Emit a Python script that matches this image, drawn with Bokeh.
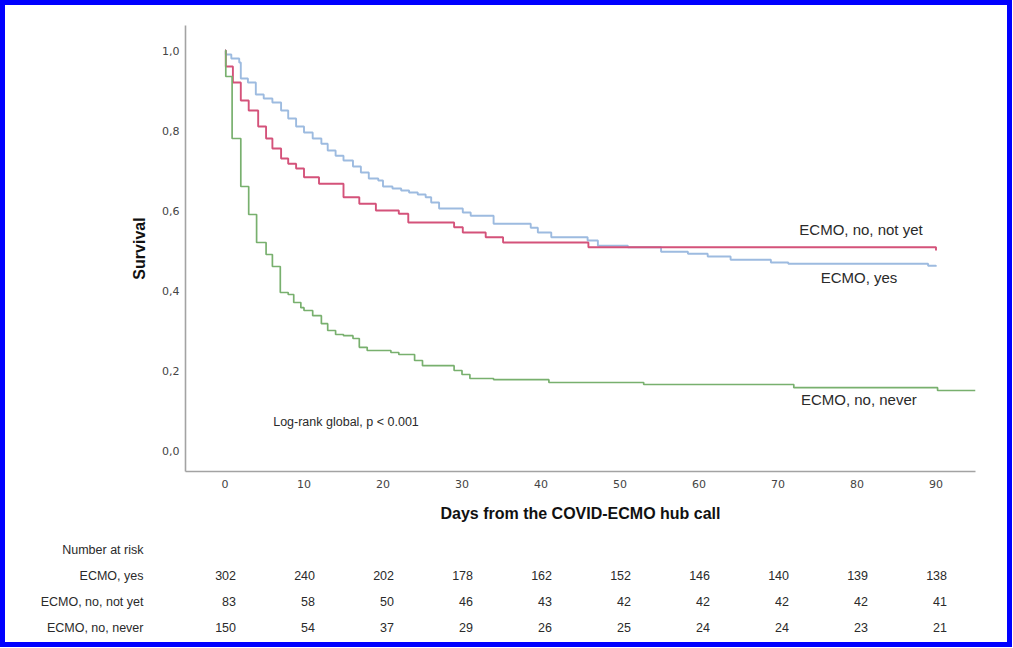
from bokeh.plotting import figure
from bokeh.layouts import column
from bokeh.models import Range1d, ColumnDataSource, FixedTicker
from bokeh.core.properties import value
from bokeh.embed import file_html
from bokeh.resources import INLINE

# ---------------- data ----------------
yes_t = [0, 0.1, 0.8, 1.8, 2.0, 2.9, 3.9, 4.9, 6.0, 7.1, 8.0, 9.0, 10.0, 11.1, 12.2, 13.0, 14.0,
         15.0, 16.2, 17.2, 18.2, 19.4, 20.0, 21.2, 22.3, 23.3, 24.4, 25.4, 26.1, 27.1, 30.1,
         31.1, 34.0, 38.7, 39.6, 41.3, 45.9, 47.2, 51.0, 55.2, 58.6, 61.1, 64.0, 69.1, 71.3,
         89.0, 90.0]
yes_s = [1.0, 0.99, 0.98, 0.97, 0.93, 0.92, 0.89, 0.88, 0.87, 0.85, 0.83, 0.81, 0.795, 0.78,
         0.767, 0.75, 0.737, 0.725, 0.71, 0.695, 0.68, 0.675, 0.66, 0.655, 0.65, 0.645, 0.64,
         0.633, 0.62, 0.605, 0.595, 0.587, 0.567, 0.557, 0.545, 0.533, 0.525, 0.512, 0.508,
         0.497, 0.492, 0.485, 0.477, 0.47, 0.467, 0.462, 0.46]

notyet_t = [0, 0.1, 1.0, 2.0, 3.0, 4.2, 5.2, 6.0, 7.1, 8.0, 9.0, 10.0, 11.9, 15.0, 17.0, 19.1,
            22.0, 23.2, 29.0, 30.1, 33.0, 35.2, 46.0, 90.0]
notyet_s = [1.0, 0.96, 0.92, 0.875, 0.85, 0.81, 0.78, 0.755, 0.73, 0.717, 0.705, 0.683, 0.667,
            0.633, 0.617, 0.60, 0.592, 0.57, 0.558, 0.545, 0.533, 0.52, 0.508, 0.50]

never_t = [0, 0.1, 0.9, 2.0, 3.0, 4.0, 5.2, 6.0, 7.0, 8.0, 8.7, 9.6, 10.0, 11.1, 12.2, 13.0,
           14.0, 15.0, 16.2, 17.0, 18.0, 21.0, 22.0, 24.0, 25.0, 29.0, 30.0, 31.0, 34.0, 41.0,
           53.0, 72.0, 90.2, 95.0]
never_s = [1.0, 0.935, 0.78, 0.66, 0.59, 0.52, 0.49, 0.46, 0.395, 0.39, 0.37, 0.357, 0.35,
           0.337, 0.317, 0.30, 0.29, 0.287, 0.28, 0.258, 0.25, 0.245, 0.24, 0.225, 0.212, 0.20,
           0.19, 0.18, 0.177, 0.17, 0.165, 0.157, 0.15, 0.15]

groups = ["ECMO, yes", "ECMO, no, not yet", "ECMO, no, never"]
risk_title = "Number at risk"
risk_days = [0, 10, 20, 30, 40, 50, 60, 70, 80, 90]
risk_yes = [302, 240, 202, 178, 162, 152, 146, 140, 139, 138]
risk_notyet = [83, 58, 50, 46, 43, 42, 42, 42, 42, 41]
risk_never = [150, 54, 37, 29, 26, 25, 24, 24, 23, 21]

y_ticks = [0.0, 0.2, 0.4, 0.6, 0.8, 1.0]
x_ticks = [0, 10, 20, 30, 40, 50, 60, 70, 80, 90]

# ---------------- styles ----------------
C_YES = "#9dbbe0"
C_NOTYET = "#d4527a"
C_NEVER = "#78b06e"
AXIS_C = "#a3a3a3"
TXT = "#2a2a2a"
SANS = "Liberation Sans"

W = 1002
H1 = 523
H2 = 114
X0, X1 = -5, 95
ML, MR = 180, 32

x_range = Range1d(X0, X1)

p = figure(width=W, height=H1, output_backend="svg", toolbar_location=None,
           x_range=x_range, y_range=Range1d(-0.0525, 1.0625),
           min_border_left=ML, min_border_right=MR, min_border_top=20, min_border_bottom=57)
p.outline_line_color = None
p.grid.visible = False
p.background_fill_color = "white"
p.border_fill_color = "white"

p.step(yes_t, yes_s, mode="after", line_color=C_YES, line_width=1.9)
p.step(notyet_t, notyet_s, mode="after", line_color=C_NOTYET, line_width=1.9)
p.step(never_t, never_s, mode="after", line_color=C_NEVER, line_width=1.7)

for ax in (p.xaxis[0], p.yaxis[0]):
    ax.axis_line_color = AXIS_C
    ax.axis_line_width = 1.6
    ax.major_tick_line_color = None
    ax.minor_tick_line_color = None
    ax.major_tick_out = 0
    ax.major_tick_in = 0
    ax.minor_tick_out = 0
    ax.major_label_text_font = "DejaVu Sans"
    ax.major_label_text_font_size = "11px"
    ax.major_label_text_color = "#444444"
    ax.axis_label_text_font = SANS
    ax.axis_label_text_font_style = "bold"
    ax.axis_label_text_font_size = "16px"
    ax.axis_label_text_color = "#111111"

p.yaxis.ticker = y_ticks
p.yaxis.major_label_overrides = {t: f"{t:.1f}".replace(".", ",") for t in y_ticks}
p.yaxis.major_label_standoff = 6
p.yaxis.axis_label = "Survival"
p.yaxis.axis_label_standoff = 11

p.xaxis.ticker = x_ticks
p.xaxis.major_label_standoff = 8
p.xaxis.axis_label = "Days from the COVID-ECMO hub call"
p.xaxis.axis_label_standoff = 14

# curve labels and test annotation
lab = ColumnDataSource(dict(
    x=[72.7, 75.4, 72.9],
    y=[0.5525, 0.4325, 0.1275],
    t=[groups[1], groups[0], groups[2]],
))
p.text("x", "y", text="t", source=lab, text_font=value(SANS), text_font_size="15px",
       text_color=TXT, text_baseline="middle", text_align="left")
p.text([6.1], [0.0725], text=["Log-rank global, p < 0.001"], text_font=value(SANS),
       text_font_size="12.5px", text_color=TXT, text_baseline="middle", text_align="left")

# ---------------- number at risk table ----------------
row_h = 26
top_px = 21
r = figure(width=W, height=H2, output_backend="svg", toolbar_location=None,
           x_range=x_range,
           y_range=Range1d((H2 - top_px) / row_h, -top_px / row_h),
           x_axis_type=None,
           min_border_left=ML, min_border_right=MR,
           min_border_top=0, min_border_bottom=0)
r.outline_line_color = None
r.grid.visible = False
r.border_fill_color = "white"

# row labels of the table: tick labels of the table's own y axis
row_labels = [risk_title] + groups
ya = r.yaxis[0]
ya.ticker = FixedTicker(ticks=list(range(len(row_labels))))
ya.major_label_overrides = {i: t for i, t in enumerate(row_labels)}
ya.axis_line_color = None
ya.major_tick_line_color = None
ya.minor_tick_line_color = None
ya.major_tick_out = 0
ya.major_tick_in = 0
ya.major_label_standoff = 42
ya.major_label_text_font = SANS
ya.major_label_text_font_size = "12.5px"
ya.major_label_text_color = TXT

rows = [risk_yes, risk_notyet, risk_never]
xs, ys, ts = [], [], []
for i, vals in enumerate(rows):
    for d, v in zip(risk_days, vals):
        xs.append(d)
        ys.append(i + 1)
        ts.append(str(v))
r.text(xs, ys, text=ts, x_offset=11, text_font=value(SANS), text_font_size="12.5px",
       text_color=TXT, text_baseline="middle", text_align="right")

layout = column(p, r, spacing=0,
                styles={"border": "5px solid #0000ff", "background-color": "white"})

open("out.html", "w").write(file_html(layout, INLINE))
